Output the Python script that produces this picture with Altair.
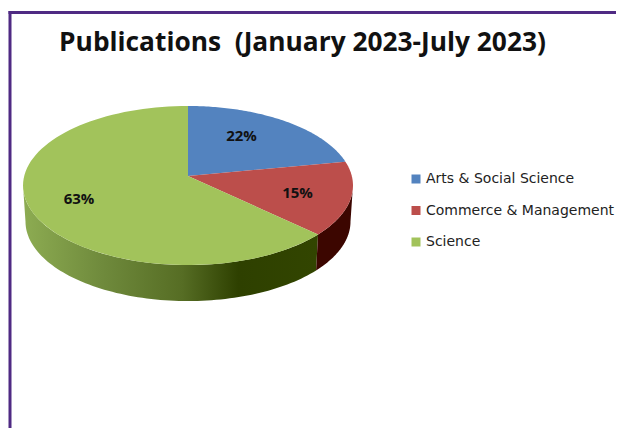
import numpy as np
import pandas as pd
import altair as alt

title_text = "Publications\u00a0 (January 2023-July 2023)"
categories = ["Arts & Social Science", "Commerce & Management", "Science"]
shares = [22, 15, 63]
labels = ["22%", "15%", "63%"]
colors = ["#5383bf", "#bc4e4b", "#a2c35b"]
red_side = "#3c0600"
border = "#4f2a83"

# perspective of the tilted disc (apex-centred, y pointing down)
A, B, P, DEPTH = 163.8, 78.4, 0.1195, 36
APEX = [180, 168]


def rim(t0, t1, dy=0.0, sx=1.0, n=90):
    th = np.radians(np.linspace(t0, t1, n))
    u, v = np.sin(th), -np.cos(th)
    w = 1 - P * v
    return np.column_stack([sx * A * u / w, B * v / w + dy]).tolist()


def feature(name, pts):
    pts = pts + [pts[0]]
    return {"type": "Feature", "properties": {"name": name},
            "geometry": {"type": "Polygon", "coordinates": [pts]}}


edges = np.concatenate([[0], np.cumsum(shares)]) * 3.6
front_l = np.degrees(np.arccos(-P))
front_r = 360 - front_l

top_faces = [feature(c, [[0, 0]] + rim(edges[i], edges[i + 1]))
             for i, c in enumerate(categories)]


def band(name, t0, t1):
    return [feature(name, rim(t0, t1) + rim(t0, t1, DEPTH, 0.985)[::-1])]


proj = dict(type="identity", scale=1, translate=APEX)

green_grad = alt.Gradient(
    gradient="linear", x1=0, x2=1, y1=0, y2=0,
    stops=[alt.GradientStop(offset=0, color="#8dac52"),
           alt.GradientStop(offset=0.27, color="#6f8a3c"),
           alt.GradientStop(offset=0.54, color="#566d24"),
           alt.GradientStop(offset=0.73, color="#2e4000"),
           alt.GradientStop(offset=1, color="#324500")],
)

side_green = alt.Chart(alt.Data(values=band("Science side", edges[2], front_r))).mark_geoshape(
    fill=green_grad, stroke=None).project(**proj)
side_red = alt.Chart(alt.Data(values=band("Commerce side", front_l, edges[2]))).mark_geoshape(
    fill=red_side, stroke=None).project(**proj)

top = alt.Chart(alt.Data(values=top_faces)).mark_geoshape(stroke=None).encode(
    color=alt.Color(
        "properties.name:N",
        scale=alt.Scale(domain=categories, range=colors),
        legend=alt.Legend(
            title=None, orient="none", legendX=401, legendY=164,
            symbolType="square", symbolSize=81, symbolStrokeWidth=0,
            labelFont="DejaVu Sans", labelFontSize=14, labelColor="#222222",
            labelLimit=300, rowPadding=17.5, labelOffset=3,
        ),
    )
).project(**proj)

left_rule = alt.Chart(pd.DataFrame({"a": [0]})).mark_rule(color=border, strokeWidth=3).encode(
    x=alt.value(2), y=alt.value(3), y2=alt.value(420))
top_rule = alt.Chart(pd.DataFrame({"a": [0]})).mark_rule(color=border, strokeWidth=3).encode(
    y=alt.value(4.5), x=alt.value(0.5), x2=alt.value(608))

title = alt.Chart(pd.DataFrame({"t": [title_text]})).mark_text(
    font="Open Sans", fontSize=26.3, fontWeight="bold", color="#111111", align="center", baseline="middle"
).encode(text="t:N", x=alt.value(294.5), y=alt.value(34.5))


def pct(i, x, y):
    return alt.Chart(pd.DataFrame({"t": [labels[i]]})).mark_text(
        font="Open Sans", fontSize=15, fontWeight="bold", color="#111111", align="center", baseline="middle"
    ).encode(text="t:N", x=alt.value(x), y=alt.value(y))


chart = alt.layer(
    side_green, side_red, top, left_rule, top_rule, title,
    pct(0, 233.5, 127.5), pct(1, 289.5, 185), pct(2, 71, 191),
).properties(
    width=608, height=420, padding=0,
    autosize=alt.AutoSizeParams(type="none"),
    background="white",
).configure_view(stroke=None)

chart.save("out.html", embed_options={"renderer": "svg", "actions": False})
